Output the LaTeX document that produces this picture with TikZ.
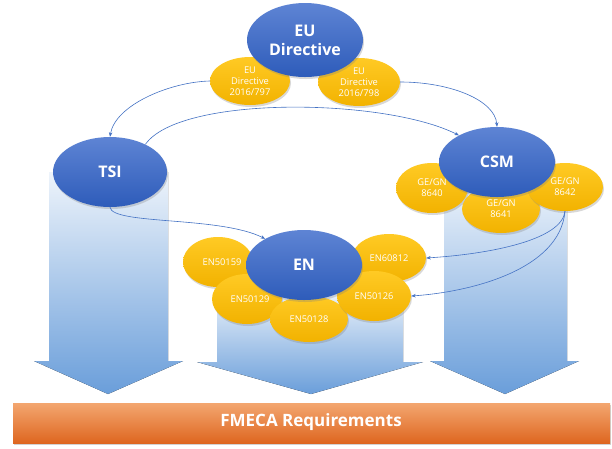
\documentclass[tikz,border=0pt]{standalone}
\usepackage{fontspec}
\setmainfont{Open Sans}
\usetikzlibrary{shapes.geometric,shadows,arrows.meta}
\definecolor{bluetop}{RGB}{94,132,212}
\definecolor{bluebot}{RGB}{46,92,186}
\definecolor{yeltop}{RGB}{255,202,36}
\definecolor{yelbot}{RGB}{242,178,0}
\definecolor{coltop}{RGB}{238,244,251}
\definecolor{colbot}{RGB}{106,158,218}
\definecolor{ortop}{RGB}{243,166,112}
\definecolor{orbot}{RGB}{222,102,32}
\definecolor{linkcol}{RGB}{68,114,196}
\tikzset{
  bigell/.style={ellipse, inner sep=0pt, draw=none, top color=bluetop, bottom color=bluebot,
    text=white, align=center, font=\bfseries\fontsize{16}{20}\selectfont,
    drop shadow={shadow xshift=1pt, shadow yshift=-2pt, opacity=0.3}},
  smallell/.style={ellipse, inner sep=0pt, draw=none, top color=yeltop, bottom color=yelbot,
    text=white, align=center, font=\fontsize{9.3}{11}\selectfont,
    drop shadow={shadow xshift=1pt, shadow yshift=-2pt, opacity=0.3}},
  colarrow/.style={top color=coltop, bottom color=colbot, draw=none},
  linkarrow/.style={draw=linkcol, line width=0.6pt, -{Stealth[length=4.5pt,width=3.5pt]}},
  barbox/.style={draw=none, top color=ortop, bottom color=orbot, text=white,
    font=\bfseries\fontsize{17}{20}\selectfont,
    drop shadow={shadow xshift=1pt, shadow yshift=-2pt, opacity=0.35}}
}
\begin{document}
\begin{tikzpicture}[x=1pt,y=-1pt]
\useasboundingbox (0,0) rectangle (612,448);
\fill[white] (0,0) rectangle (612,448);

% big arrows (columns)
\fill[colarrow] (49,172) -- (168,172) -- (168,361) -- (183,361) -- (108,394) -- (34,361) -- (49,361) -- cycle;
\fill[colarrow] (217,290) -- (403,290) -- (403,362) -- (423,362) -- (311,394) -- (197,362) -- (217,362) -- cycle;
\fill[colarrow] (444,180) -- (567,180) -- (567,361) -- (579,361) -- (505,394) -- (430,361) -- (444,361) -- cycle;

% bottom bar
\node[barbox, minimum width=597pt, minimum height=40pt, anchor=north west] (fmeca) at (13,403) {};
\node[text=white, font=\bfseries\fontsize{17}{20}\selectfont] (fmecatext) at (311,422) {FMECA Requirements};

% EU directive cluster
\node[smallell, minimum width=80pt, minimum height=48pt] (d797) at (250,81) {EU\\Directive\\2016/797};
\node[smallell, minimum width=82pt, minimum height=48pt] (d798) at (359,82) {EU\\Directive\\2016/798};
\node[bigell, minimum width=116pt, minimum height=74pt] (eu) at (305,40) {EU\\[-1pt]Directive};

% TSI
\node[bigell, minimum width=114pt, minimum height=70pt] (tsi) at (110,172) {TSI};

% CSM cluster
\node[smallell, minimum width=72pt, minimum height=50pt] (g8640) at (432,188) {GE/GN\\8640};
\node[smallell, minimum width=78pt, minimum height=48pt] (g8641) at (501,209) {GE/GN\\8641};
\node[smallell, minimum width=76pt, minimum height=48pt] (g8642) at (565,187) {GE/GN\\8642};
\node[bigell, minimum width=116pt, minimum height=70pt] (csm) at (497,162) {CSM};

% EN cluster
\node[smallell, minimum width=70pt, minimum height=50pt] (e50159) at (218,262) {\hspace*{8pt}EN50159};
\node[smallell, minimum width=74pt, minimum height=48pt] (e60812) at (389,258) {EN60812};
\node[smallell, minimum width=70pt, minimum height=50pt] (e50129) at (247,299) {\hspace*{6pt}EN50129};
\node[smallell, minimum width=78pt, minimum height=46pt] (e50128) at (309,319) {EN50128};
\node[smallell, minimum width=74pt, minimum height=50pt] (e50126) at (374,296) {EN50126};
\node[bigell, minimum width=116pt, minimum height=70pt] (en) at (304,265) {EN};

% connectors
\draw[linkarrow] (d797.west) .. controls (170,82) and (115,105) .. (tsi.north);
\draw[linkarrow] (d798.east) .. controls (450,82) and (495,100) .. (csm.north);
\draw[linkarrow] (tsi.38) .. controls (180,95) and (385,98) .. (csm.145);
\draw[linkarrow] (tsi.south) .. controls (112,225) and (220,216) .. (en.146);
\draw[linkarrow] (g8642.south) .. controls (562,240) and (490,254) .. (e60812.east);
\draw[linkarrow] (g8642.south) .. controls (560,270) and (470,292) .. (e50126.east);
\end{tikzpicture}
\end{document}
